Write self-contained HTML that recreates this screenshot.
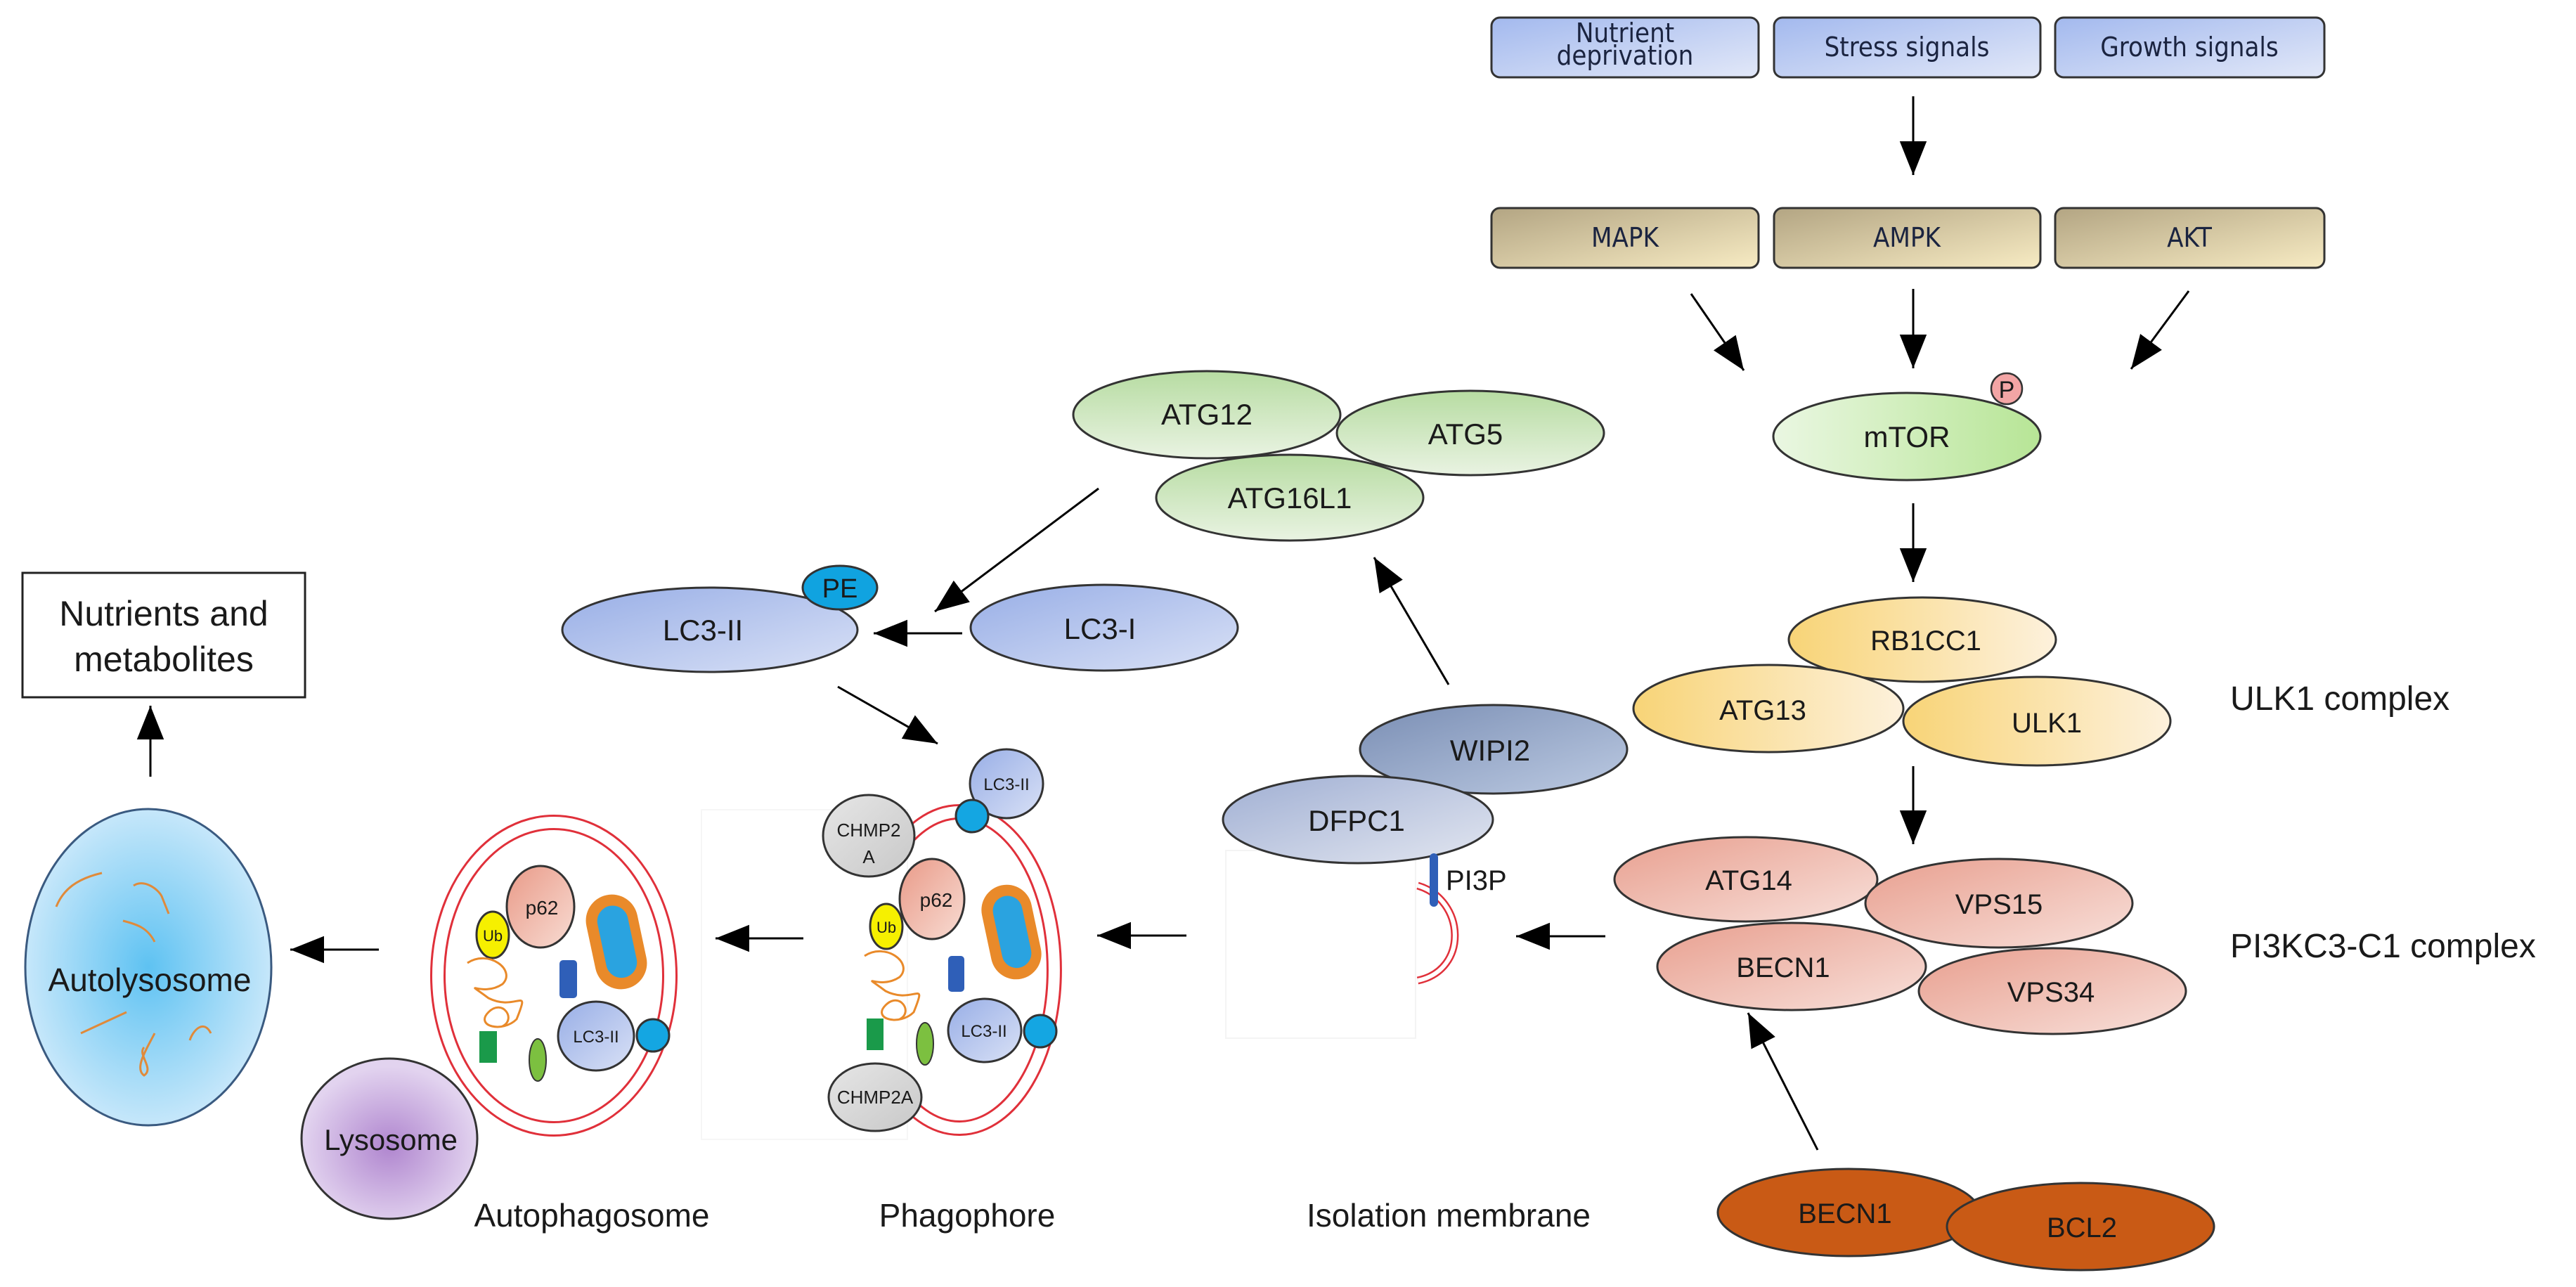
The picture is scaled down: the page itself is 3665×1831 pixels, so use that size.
<!DOCTYPE html>
<html><head><meta charset="utf-8"><style>
html,body{margin:0;padding:0;background:#fff;}
svg{display:block;}
text{font-family:"Liberation Sans",sans-serif;fill:#1a1a1a;}
.bx{font-family:"DejaVu Sans Condensed","Liberation Sans Narrow","Liberation Sans",sans-serif;font-size:38px;fill:#1b2440;}
</style></head><body>
<svg width="3665" height="1831" viewBox="0 0 3665 1831" xmlns="http://www.w3.org/2000/svg">
<defs>
<marker id="a" viewBox="0 0 10 10" refX="10" refY="5" markerWidth="48" markerHeight="48" markerUnits="userSpaceOnUse" orient="auto"><path d="M0,1 L10,5 L0,9 z" fill="#000"/></marker>
<linearGradient id="gBlue" x1="0" y1="0" x2="1" y2="1"><stop offset="0" stop-color="#a3b9ee"/><stop offset="1" stop-color="#e2e8f8"/></linearGradient>
<linearGradient id="gTan" x1="0" y1="0" x2="1" y2="1"><stop offset="0" stop-color="#b3a583"/><stop offset="1" stop-color="#f7ebc3"/></linearGradient>
<linearGradient id="gGreen" x1="0" y1="0" x2="0" y2="1"><stop offset="0" stop-color="#b7dca2"/><stop offset="1" stop-color="#e9f3e2"/></linearGradient>
<linearGradient id="gMtor" x1="0" y1="0" x2="1" y2="0"><stop offset="0" stop-color="#eaf7e2"/><stop offset="1" stop-color="#b7e596"/></linearGradient>
<linearGradient id="gYel" x1="0" y1="0" x2="1" y2="0"><stop offset="0" stop-color="#f8d477"/><stop offset="1" stop-color="#fdf1dc"/></linearGradient>
<linearGradient id="gPink" x1="0" y1="0" x2="1" y2="1"><stop offset="0" stop-color="#e89f8f"/><stop offset="1" stop-color="#f8e0da"/></linearGradient>
<linearGradient id="gLC3" x1="0" y1="0" x2="1" y2="1"><stop offset="0" stop-color="#98aee6"/><stop offset="1" stop-color="#d9e1f6"/></linearGradient>
<linearGradient id="gWipi" x1="0" y1="0" x2="1" y2="1"><stop offset="0" stop-color="#7a8eb4"/><stop offset="1" stop-color="#bccae2"/></linearGradient>
<linearGradient id="gDfpc" x1="0" y1="0" x2="1" y2="1"><stop offset="0" stop-color="#a0afd3"/><stop offset="1" stop-color="#e2e6f0"/></linearGradient>
<linearGradient id="gGrey" x1="0" y1="0" x2="1" y2="1"><stop offset="0" stop-color="#e6e6e6"/><stop offset="1" stop-color="#c8c8c8"/></linearGradient>
<linearGradient id="gP62" x1="0" y1="0" x2="1" y2="1"><stop offset="0" stop-color="#e99a88"/><stop offset="1" stop-color="#f8dcd3"/></linearGradient>
<radialGradient id="gAuto" cx="0.5" cy="0.5" r="0.5"><stop offset="0" stop-color="#5ec2f2"/><stop offset="1" stop-color="#c6e7fa"/></radialGradient>
<radialGradient id="gLyso" cx="0.5" cy="0.55" r="0.5"><stop offset="0" stop-color="#b086cf"/><stop offset="1" stop-color="#e2d3ef"/></radialGradient>
</defs>

<rect x="2122" y="25" width="380" height="85" rx="12" fill="url(#gBlue)" stroke="#333" stroke-width="3"/>
<text class="bx" x="2312" y="60" text-anchor="middle">Nutrient</text>
<text class="bx" x="2312" y="92" text-anchor="middle">deprivation</text>
<rect x="2524" y="25" width="379" height="85" rx="12" fill="url(#gBlue)" stroke="#333" stroke-width="3"/>
<text class="bx" x="2713" y="80" text-anchor="middle">Stress signals</text>
<rect x="2924" y="25" width="383" height="85" rx="12" fill="url(#gBlue)" stroke="#333" stroke-width="3"/>
<text class="bx" x="3115" y="80" text-anchor="middle">Growth signals</text>

<rect x="2122" y="296" width="380" height="85" rx="12" fill="url(#gTan)" stroke="#333" stroke-width="3"/>
<text class="bx" x="2312" y="351" text-anchor="middle">MAPK</text>
<rect x="2524" y="296" width="379" height="85" rx="12" fill="url(#gTan)" stroke="#333" stroke-width="3"/>
<text class="bx" x="2713" y="351" text-anchor="middle">AMPK</text>
<rect x="2924" y="296" width="383" height="85" rx="12" fill="url(#gTan)" stroke="#333" stroke-width="3"/>
<text class="bx" x="3115" y="351" text-anchor="middle">AKT</text>

<g stroke="#000" stroke-width="3" fill="none" marker-end="url(#a)">
<line x1="2722" y1="137" x2="2722" y2="249"/>
<line x1="2406" y1="418" x2="2481" y2="527"/>
<line x1="2722" y1="411" x2="2722" y2="524"/>
<line x1="3114" y1="414" x2="3032" y2="525"/>
<line x1="2722" y1="716" x2="2722" y2="828"/>
<line x1="2722" y1="1090" x2="2722" y2="1201"/>
<line x1="2586" y1="1636" x2="2487" y2="1441"/>
<line x1="2284" y1="1332" x2="2157" y2="1332"/>
<line x1="1688" y1="1331" x2="1561" y2="1331"/>
<line x1="1143" y1="1335" x2="1018" y2="1335"/>
<line x1="539" y1="1351" x2="413" y2="1351"/>
<line x1="214" y1="1105" x2="214" y2="1004"/>
<line x1="2061" y1="974" x2="1955" y2="793"/>
<line x1="1563" y1="695" x2="1330" y2="870"/>
<line x1="1369" y1="901" x2="1243" y2="901"/>
<line x1="1192" y1="977" x2="1334" y2="1058"/>
</g>

<ellipse cx="2713" cy="621" rx="190" ry="62" fill="url(#gMtor)" stroke="#333" stroke-width="3"/>
<text x="2713" y="636" font-size="42" text-anchor="middle">mTOR</text>
<circle cx="2855" cy="553" r="22" fill="#f3a5a5" stroke="#333" stroke-width="2.5"/>
<text x="2855" y="566" font-size="34" text-anchor="middle">P</text>

<ellipse cx="1717" cy="590" rx="190" ry="62" fill="url(#gGreen)" stroke="#333" stroke-width="3"/>
<text x="1717" y="604" font-size="42" text-anchor="middle">ATG12</text>
<ellipse cx="2092" cy="616" rx="190" ry="60" fill="url(#gGreen)" stroke="#333" stroke-width="3"/>
<text x="2085" y="632" font-size="42" text-anchor="middle">ATG5</text>
<ellipse cx="1835" cy="708" rx="190" ry="61" fill="url(#gGreen)" stroke="#333" stroke-width="3"/>
<text x="1835" y="723" font-size="42" text-anchor="middle">ATG16L1</text>

<ellipse cx="1010" cy="896" rx="210" ry="60" fill="url(#gLC3)" stroke="#333" stroke-width="3"/>
<text x="1000" y="911" font-size="42" text-anchor="middle">LC3-II</text>
<ellipse cx="1195" cy="836" rx="53" ry="31" fill="#10a3e0" stroke="#333" stroke-width="3"/>
<text x="1195" y="850" font-size="38" text-anchor="middle">PE</text>
<ellipse cx="1571" cy="893" rx="190" ry="61" fill="url(#gLC3)" stroke="#333" stroke-width="3"/>
<text x="1565" y="909" font-size="42" text-anchor="middle">LC3-I</text>

<ellipse cx="2735" cy="910" rx="190" ry="60" fill="url(#gYel)" stroke="#333" stroke-width="3"/>
<text x="2740" y="925" font-size="40" text-anchor="middle">RB1CC1</text>
<ellipse cx="2516" cy="1008" rx="192" ry="62" fill="url(#gYel)" stroke="#333" stroke-width="3"/>
<text x="2508" y="1024" font-size="40" text-anchor="middle">ATG13</text>
<ellipse cx="2898" cy="1026" rx="190" ry="63" fill="url(#gYel)" stroke="#333" stroke-width="3"/>
<text x="2912" y="1042" font-size="40" text-anchor="middle">ULK1</text>
<text x="3173" y="1010" font-size="48">ULK1 complex</text>

<ellipse cx="2484" cy="1251" rx="187" ry="60" fill="url(#gPink)" stroke="#333" stroke-width="3"/>
<text x="2488" y="1266" font-size="40" text-anchor="middle">ATG14</text>
<ellipse cx="2844" cy="1285" rx="190" ry="63" fill="url(#gPink)" stroke="#333" stroke-width="3"/>
<text x="2844" y="1300" font-size="40" text-anchor="middle">VPS15</text>
<ellipse cx="2549" cy="1375" rx="191" ry="62" fill="url(#gPink)" stroke="#333" stroke-width="3"/>
<text x="2537" y="1390" font-size="40" text-anchor="middle">BECN1</text>
<ellipse cx="2920" cy="1410" rx="190" ry="61" fill="url(#gPink)" stroke="#333" stroke-width="3"/>
<text x="2918" y="1425" font-size="40" text-anchor="middle">VPS34</text>
<text x="3173" y="1362" font-size="48">PI3KC3-C1 complex</text>

<ellipse cx="2630" cy="1725" rx="186" ry="62" fill="#c95a15" stroke="#333" stroke-width="3"/>
<text x="2625" y="1740" font-size="40" text-anchor="middle">BECN1</text>
<ellipse cx="2960" cy="1745" rx="190" ry="62" fill="#c95a15" stroke="#333" stroke-width="3"/>
<text x="2962" y="1760" font-size="40" text-anchor="middle">BCL2</text>

<rect x="1744" y="1210" width="270" height="267" fill="none" stroke="#f4f4f4" stroke-width="2"/>
<ellipse cx="2125" cy="1066" rx="190" ry="63" fill="url(#gWipi)" stroke="#333" stroke-width="3"/>
<text x="2120" y="1082" font-size="42" text-anchor="middle">WIPI2</text>
<ellipse cx="1932" cy="1166" rx="192" ry="62" fill="url(#gDfpc)" stroke="#333" stroke-width="3"/>
<text x="1930" y="1182" font-size="42" text-anchor="middle">DFPC1</text>
<path d="M2017,1260 C2085,1280 2090,1380 2017,1395" fill="none" stroke="#e0303a" stroke-width="11"/>
<path d="M2017,1260 C2085,1280 2090,1380 2017,1395" fill="none" stroke="#fff" stroke-width="6"/>
<rect x="2034" y="1214" width="12" height="76" rx="6" fill="#2f5fb8"/>
<text x="2057" y="1266" font-size="40">PI3P</text>
<text x="2061" y="1745" font-size="46" text-anchor="middle">Isolation membrane</text>

<rect x="998" y="1152" width="293" height="469" fill="none" stroke="#f6f6f6" stroke-width="2"/>
<path d="M1270,1220 A135,225 0 1 1 1270,1540" fill="none" stroke="#e0303a" stroke-width="22"/>
<path d="M1270,1220 A135,225 0 1 1 1270,1540" fill="none" stroke="#fff" stroke-width="16"/>
<ellipse cx="1236" cy="1189" rx="65" ry="58" fill="url(#gGrey)" stroke="#333" stroke-width="3"/>
<text x="1236" y="1190" font-size="26" text-anchor="middle">CHMP2</text>
<text x="1236" y="1228" font-size="26" text-anchor="middle">A</text>
<ellipse cx="1245" cy="1561" rx="66" ry="48" fill="url(#gGrey)" stroke="#333" stroke-width="3"/>
<text x="1245" y="1570" font-size="26" text-anchor="middle">CHMP2A</text>
<ellipse cx="1432" cy="1115" rx="52" ry="49" fill="url(#gLC3)" stroke="#333" stroke-width="3"/>
<text x="1432" y="1124" font-size="24" text-anchor="middle">LC3-II</text>
<circle cx="1383" cy="1161" r="23" fill="#14a6e2" stroke="#333" stroke-width="3"/>
<ellipse cx="1326" cy="1279" rx="46" ry="57" fill="url(#gP62)" stroke="#333" stroke-width="3"/>
<text x="1332" y="1290" font-size="28" text-anchor="middle">p62</text>
<ellipse cx="1261" cy="1318" rx="23" ry="32" fill="#f6f000" stroke="#333" stroke-width="3"/>
<text x="1261" y="1327" font-size="22" text-anchor="middle">Ub</text>
<g transform="translate(1439,1326) rotate(-12)"><rect x="-36" y="-68" width="72" height="136" rx="36" fill="#e98a2a"/><rect x="-20" y="-52" width="42" height="104" rx="21" fill="#2aa3e0"/></g>
<rect x="1349" y="1360" width="23" height="51" rx="5" fill="#2f5fb8"/>
<ellipse cx="1401" cy="1466" rx="52" ry="45" fill="url(#gLC3)" stroke="#333" stroke-width="3"/>
<text x="1400" y="1475" font-size="24" text-anchor="middle">LC3-II</text>
<circle cx="1480" cy="1467" r="23" fill="#14a6e2" stroke="#333" stroke-width="3"/>
<rect x="1233" y="1449" width="24" height="45" fill="#1a9a4a"/>
<ellipse cx="1316" cy="1485" rx="12" ry="30" fill="#7cc040" stroke="#333" stroke-width="2"/>
<path d="M1230,1360 c30,-20 70,10 50,30 c-30,20 -60,-10 -20,20 c40,20 60,-20 40,30 c-20,20 -60,10 -40,-10 c20,-20 40,10 20,20" fill="none" stroke="#e98a2a" stroke-width="3"/>
<text x="1376" y="1745" font-size="46" text-anchor="middle">Phagophore</text>

<ellipse cx="788" cy="1388" rx="165" ry="218" fill="none" stroke="#e0303a" stroke-width="22"/>
<ellipse cx="788" cy="1388" rx="165" ry="218" fill="none" stroke="#fff" stroke-width="16"/>
<ellipse cx="769" cy="1290" rx="48" ry="58" fill="url(#gP62)" stroke="#333" stroke-width="3"/>
<text x="771" y="1301" font-size="28" text-anchor="middle">p62</text>
<ellipse cx="701" cy="1330" rx="23" ry="33" fill="#f6f000" stroke="#333" stroke-width="3"/>
<text x="701" y="1339" font-size="22" text-anchor="middle">Ub</text>
<g transform="translate(877,1340) rotate(-12)"><rect x="-37" y="-68" width="74" height="136" rx="37" fill="#e98a2a"/><rect x="-21" y="-52" width="44" height="104" rx="22" fill="#2aa3e0"/></g>
<rect x="796" y="1366" width="25" height="54" rx="5" fill="#2f5fb8"/>
<ellipse cx="848" cy="1474" rx="54" ry="49" fill="url(#gLC3)" stroke="#333" stroke-width="3"/>
<text x="848" y="1483" font-size="24" text-anchor="middle">LC3-II</text>
<circle cx="929" cy="1473" r="23" fill="#14a6e2" stroke="#333" stroke-width="3"/>
<rect x="682" y="1467" width="25" height="45" fill="#1a9a4a"/>
<ellipse cx="765" cy="1508" rx="12" ry="30" fill="#7cc040" stroke="#333" stroke-width="2"/>
<path d="M665,1370 c30,-20 70,10 50,30 c-30,20 -60,-10 -20,20 c40,20 60,-20 40,30 c-20,20 -60,10 -40,-10 c20,-20 40,10 20,20" fill="none" stroke="#e98a2a" stroke-width="3"/>
<ellipse cx="554" cy="1620" rx="125" ry="114" fill="url(#gLyso)" stroke="#333" stroke-width="3"/>
<text x="556" y="1636" font-size="42" text-anchor="middle">Lysosome</text>
<text x="842" y="1745" font-size="46" text-anchor="middle">Autophagosome</text>

<ellipse cx="211" cy="1376" rx="175" ry="225" fill="url(#gAuto)" stroke="#3a5a80" stroke-width="3"/>
<g fill="none" stroke="#e08a3a" stroke-width="3">
<path d="M80,1290 c10,-25 30,-40 65,-48"/>
<path d="M190,1260 c15,-10 35,5 40,15 l10,25"/>
<path d="M175,1310 c20,5 35,10 45,30"/>
<path d="M115,1470 l65,-30"/>
<path d="M220,1470 c-10,20 -30,50 -15,60 c15,-10 -10,-30 0,-40"/>
<path d="M270,1480 c5,-15 20,-30 30,-10"/>
</g>
<text x="213" y="1410" font-size="46" text-anchor="middle">Autolysosome</text>

<rect x="32" y="815" width="402" height="177" fill="#fff" stroke="#222" stroke-width="3"/>
<text x="233" y="890" font-size="50" text-anchor="middle">Nutrients  and</text>
<text x="233" y="955" font-size="50" text-anchor="middle">metabolites</text>
</svg>
</body></html>
